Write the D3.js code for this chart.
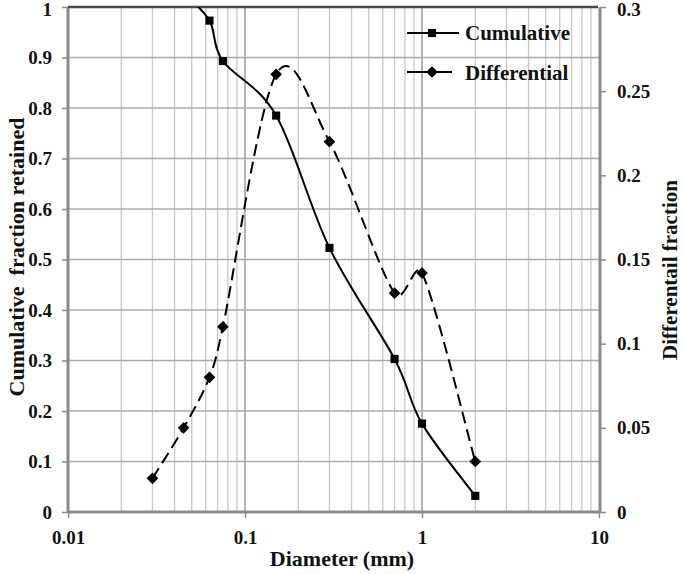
<!DOCTYPE html>
<html>
<head>
<meta charset="utf-8">
<script src="https://cdn.jsdelivr.net/npm/d3@7"></script>
<style>
  body { margin: 0; background: #fff; }
  text { font-family: "Liberation Serif", "Times New Roman", serif; font-weight: bold; fill: #111; }
</style>
</head>
<body>
<svg id="chart" width="685" height="574"></svg>
<script>
// diameters (mm)
var cumDiam = [0.03, 0.045, 0.063, 0.075, 0.15, 0.3, 0.7, 1, 2];
var cumVals = [1.042, 1.022, 0.973, 0.893, 0.785, 0.523, 0.303, 0.175, 0.032];
var difDiam = [0.03, 0.045, 0.063, 0.075, 0.15, 0.3, 0.7, 1, 2];
var difVals = [0.02, 0.05, 0.08, 0.11, 0.26, 0.22, 0.13, 0.142, 0.03];

var xTicks  = [0.01, 0.1, 1, 10];
var yTicks  = [0, 0.1, 0.2, 0.3, 0.4, 0.5, 0.6, 0.7, 0.8, 0.9, 1];
var y2Ticks = [0, 0.05, 0.1, 0.15, 0.2, 0.25, 0.3];

var pLeft = 68, pRight = 599, pTop = 7, pBottom = 512;

var svg = d3.select('#chart');

var x  = d3.scaleLog().domain([0.01, 10]).range([pLeft, pRight]);
var y  = d3.scaleLinear().domain([0, 1]).range([pBottom, pTop]);
var y2 = d3.scaleLinear().domain([0, 0.3]).range([pBottom, pTop]);

// minor log grid
var minor = [];
[0.01, 0.1, 1].forEach(function(d){
	for (var i = 2; i <= 9; i++) minor.push(d * i);
});

var grid = svg.append('g');
grid.selectAll('.vminor').data(minor).enter().append('line')
	.attr('x1', function(d){ return x(d); })
	.attr('x2', function(d){ return x(d); })
	.attr('y1', pTop).attr('y2', pBottom)
	.attr('stroke', '#c8c8c8').attr('stroke-width', 1.3);

grid.selectAll('.vmajor').data([0.1, 1]).enter().append('line')
	.attr('x1', function(d){ return x(d); })
	.attr('x2', function(d){ return x(d); })
	.attr('y1', pTop).attr('y2', pBottom)
	.attr('stroke', '#9a9a9a').attr('stroke-width', 1.5);

grid.selectAll('.hgrid').data(yTicks.slice(1, -1)).enter().append('line')
	.attr('x1', pLeft).attr('x2', pRight)
	.attr('y1', function(d){ return y(d); })
	.attr('y2', function(d){ return y(d); })
	.attr('stroke', '#ababab').attr('stroke-width', 1.5);

// axes
var leftAxis = svg.append('g').attr('transform', 'translate(' + pLeft + ',0)')
	.call(d3.axisLeft(y).tickValues(yTicks).tickFormat(d3.format('')).tickSize(6).tickPadding(10));
var bottomAxis = svg.append('g').attr('transform', 'translate(0,' + pBottom + ')')
	.call(d3.axisBottom(x).tickValues(xTicks).tickFormat(function(d){ return String(d); }).tickSize(6).tickPadding(13));
var rightAxis = svg.append('g').attr('transform', 'translate(' + (pRight + 1) + ',0)')
	.call(d3.axisRight(y2).tickValues(y2Ticks).tickFormat(function(d){ return String(d); }).tickSize(6).tickPadding(11));

[leftAxis, bottomAxis, rightAxis].forEach(function(a){
	a.select('.domain').attr('stroke', '#8a8a8a').attr('stroke-width', 3);
	a.selectAll('.tick line').attr('stroke', '#8a8a8a').attr('stroke-width', 1.5);
	a.selectAll('.tick text').style('font-size', '19px').attr('fill', '#111');
});
leftAxis.select('.domain').attr('d', 'M0,' + (pBottom + 1) + 'V' + pTop);
rightAxis.select('.domain').attr('d', 'M0,' + pBottom + 'V' + pTop);
bottomAxis.select('.domain').attr('d', 'M' + pLeft + ',0H' + pRight);

// top labels sit right on the edge, nudge them down a bit
leftAxis.selectAll('.tick text').filter(function(d){ return d === 1; }).attr('y', 2);
rightAxis.selectAll('.tick text').filter(function(d){ return d === 0.3; }).attr('y', 2);

svg.append('line')
	.attr('x1', pLeft).attr('x2', pRight - 1)
	.attr('y1', pTop).attr('y2', pTop)
	.attr('stroke', '#4a4a4a').attr('stroke-width', 2.5);

// clip
svg.append('clipPath').attr('id', 'clip').append('rect')
	.attr('x', pLeft).attr('y', pTop).attr('width', pRight - pLeft).attr('height', pBottom - pTop);

var plot = svg.append('g').attr('clip-path', 'url(#clip)');

var cumData = cumDiam.map(function(d, i){ return [d, cumVals[i]]; });
var difData = difDiam.map(function(d, i){ return [d, difVals[i]]; });

// excel-like smoothed line: catmull-rom arms, capped at half the segment
function smoothPath(pts) {
	var p = d3.path();
	function dist(a, b){ return Math.hypot(b[0] - a[0], b[1] - a[1]); }
	p.moveTo(pts[0][0], pts[0][1]);
	for (var i = 0; i < pts.length - 1; i++) {
		var p0 = pts[Math.max(i - 1, 0)], p1 = pts[i], p2 = pts[i + 1], p3 = pts[Math.min(i + 2, pts.length - 1)];
		var d12 = dist(p1, p2), d02 = dist(p0, p2), d13 = dist(p1, p3);
		var f = d02 / 6 < d12 / 2 ? 1 / 6 : d12 / (2 * d02);
		var g = d13 / 6 < d12 / 2 ? 1 / 6 : d12 / (2 * d13);
		p.bezierCurveTo(
			p1[0] + f * (p2[0] - p0[0]), p1[1] + f * (p2[1] - p0[1]),
			p2[0] - g * (p3[0] - p1[0]), p2[1] - g * (p3[1] - p1[1]),
			p2[0], p2[1]);
	}
	return p.toString();
}

plot.append('path')
	.attr('d', smoothPath(cumData.map(function(d){ return [x(d[0]), y(d[1])]; })))
	.attr('fill', 'none').attr('stroke', '#000').attr('stroke-width', 2);

plot.append('path')
	.attr('d', smoothPath(difData.map(function(d){ return [x(d[0]), y2(d[1])]; })))
	.attr('fill', 'none').attr('stroke', '#000').attr('stroke-width', 2).attr('stroke-dasharray', '12,6');

var sq = d3.symbol().type(d3.symbolSquare).size(66);
var dm = d3.symbol().type(d3.symbolSquare).size(68);

plot.selectAll('.cm').data(cumData).enter().append('path')
	.attr('d', sq)
	.attr('transform', function(d){ return 'translate(' + x(d[0]) + ',' + y(d[1]) + ')'; })
	.attr('fill', '#000');

plot.selectAll('.dmk').data(difData).enter().append('path')
	.attr('d', dm)
	.attr('transform', function(d){ return 'translate(' + x(d[0]) + ',' + y2(d[1]) + ') rotate(45)'; })
	.attr('fill', '#000');

// legend
var legend = svg.append('g');
legend.append('line').attr('x1', 407).attr('x2', 459).attr('y1', 33).attr('y2', 33)
	.attr('stroke', '#000').attr('stroke-width', 2);
legend.append('path').attr('d', sq).attr('transform', 'translate(432,33)').attr('fill', '#000');
legend.append('text').attr('x', 465).attr('y', 40).style('font-size', '21px').text('Cumulative');

legend.append('line').attr('x1', 407).attr('x2', 452).attr('y1', 72).attr('y2', 72)
	.attr('stroke', '#000').attr('stroke-width', 2);
legend.append('path').attr('d', dm).attr('transform', 'translate(432,72) rotate(45)').attr('fill', '#000');
legend.append('text').attr('x', 465).attr('y', 80).style('font-size', '21px').text('Differential');

// titles
svg.append('text').attr('x', 342).attr('y', 566).attr('text-anchor', 'middle')
	.style('font-size', '22px').text('Diameter (mm)');

svg.append('text').attr('transform', 'translate(24,257) rotate(-90)').attr('text-anchor', 'middle')
	.style('font-size', '22px').attr('xml:space', 'preserve').text('Cumulative  fraction retained');

svg.append('text').attr('transform', 'translate(677,270) rotate(-90)').attr('text-anchor', 'middle')
	.style('font-size', '21px').text('Differentail fraction');
</script>
</body>
</html>
